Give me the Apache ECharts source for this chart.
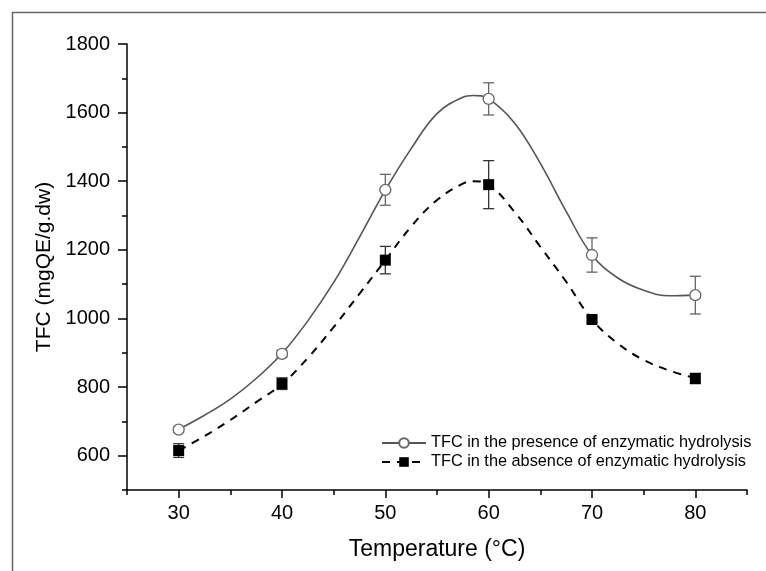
<!DOCTYPE html>
<html>
<head>
<meta charset="utf-8">
<script src="https://cdn.jsdelivr.net/npm/echarts@6/dist/echarts.min.js"></script>
<style>html,body{margin:0;padding:0;background:#fff}#c{width:766px;height:571px}</style>
</head>
<body>
<div id="c"></div>
<script>
// measured points
const temperatures = [30, 40, 50, 60, 70, 80];
const presence = [676, 897, 1375, 1640, 1185, 1068];
const presenceErr = [8, 10, 45, 47, 50, 55];
const absence = [615, 810, 1170, 1390, 997, 825];
const absenceErr = [20, 17, 40, 70, 8, 15];
// fitted curves
const fitTemperatures = [30, 32.5, 35, 37.5, 40, 42.5, 45, 47.5, 50, 52.5, 55, 57.5, 58.5, 60, 62.5, 65, 67.5, 70, 72.5, 75, 77.5, 80];
const presenceFit = [677, 718, 765, 825, 898, 993, 1105, 1237, 1374, 1495, 1597, 1645, 1650, 1640, 1570, 1452, 1312, 1185, 1118, 1082, 1066, 1068];
const absenceFit = [615, 657, 704, 756, 809, 885, 975, 1072, 1170, 1268, 1345, 1393, 1400, 1390, 1311, 1209, 1107, 997, 927, 879, 848, 826];
const xMajorTicks = [30, 40, 50, 60, 70, 80];
const xMinorTicks = [25, 35, 45, 55, 65, 75, 85];
const yMajorTicks = [600, 800, 1000, 1200, 1400, 1600, 1800];
const yMinorTicks = [500, 700, 900, 1100, 1300, 1500, 1700];
const seriesNames = ['TFC in the presence of enzymatic hydrolysis', 'TFC in the absence of enzymatic hydrolysis'];

const chart = echarts.init(document.getElementById('c'));
const font = 'Arial, "Liberation Sans", sans-serif';

function errSeries(vals, errs, color) {
  return {
    type: 'custom',
    data: temperatures.map((t, i) => [t, vals[i] - errs[i], vals[i] + errs[i]]),
    renderItem: function (params, api) {
      const lo = api.coord([api.value(0), api.value(1)]);
      const hi = api.coord([api.value(0), api.value(2)]);
      const w = 5.5;
      const st = { stroke: color, lineWidth: 1.3 };
      return {
        type: 'group',
        children: [
          { type: 'line', shape: { x1: lo[0], y1: lo[1], x2: hi[0], y2: hi[1] }, style: st },
          { type: 'line', shape: { x1: lo[0] - w, y1: lo[1], x2: lo[0] + w, y2: lo[1] }, style: st },
          { type: 'line', shape: { x1: hi[0] - w, y1: hi[1], x2: hi[0] + w, y2: hi[1] }, style: st }
        ]
      };
    },
    z: 1,
    silent: true
  };
}

const axisLineStyle = { color: '#000', width: 1.5 };
const presItem = { color: '#fff', borderColor: '#666', borderWidth: 1.3, opacity: 1 };
const absItem = { color: '#000', opacity: 1 };

chart.setOption({
  animation: false,
  backgroundColor: '#fff',
  graphic: [{
    type: 'rect', left: 10, top: 10, shape: { width: 800, height: 600 },
    style: { fill: 'none', stroke: '#666', lineWidth: 1.5 }, silent: true
  }],
  grid: { left: 127, top: 44, right: 19, bottom: 81 },
  legend: {
    left: 376, top: 430, orient: 'vertical', itemWidth: 44, itemHeight: 12, itemGap: 3,
    data: seriesNames,
    textStyle: { fontFamily: font, fontSize: 16.3, color: '#000' }
  },
  xAxis: [{
    type: 'value', min: 25, max: 85,
    name: 'Temperature (°C)', nameLocation: 'middle', nameGap: 48,
    nameTextStyle: { fontFamily: font, fontSize: 23, color: '#000' },
    axisLine: { lineStyle: axisLineStyle },
    axisTick: { customValues: xMajorTicks, length: 8, lineStyle: { color: '#000', width: 1.5 } },
    axisLabel: { customValues: xMajorTicks, margin: 13, fontFamily: font, fontSize: 20, color: '#000' },
    splitLine: { show: false }
  }, {
    type: 'value', min: 25, max: 85, position: 'bottom',
    axisLine: { show: false },
    axisTick: { customValues: xMinorTicks, length: 5, lineStyle: { color: '#000', width: 1.5 } },
    axisLabel: { show: false },
    splitLine: { show: false }
  }],
  yAxis: [{
    type: 'value', min: 500, max: 1800,
    name: 'TFC (mgQE/g.dw)', nameLocation: 'middle', nameGap: 61,
    nameTextStyle: { fontFamily: font, fontSize: 21, color: '#000' },
    axisLine: { lineStyle: axisLineStyle },
    axisTick: { customValues: yMajorTicks, length: 9, lineStyle: { color: '#000', width: 1.5 } },
    axisLabel: { customValues: yMajorTicks, margin: 17, fontFamily: font, fontSize: 20, color: '#000', formatter: v => String(v) },
    splitLine: { show: false }
  }, {
    type: 'value', min: 500, max: 1800, position: 'left',
    axisLine: { show: false },
    axisTick: { customValues: yMinorTicks, length: 5, lineStyle: { color: '#000', width: 1.5 } },
    axisLabel: { show: false },
    splitLine: { show: false }
  }],
  series: [
    errSeries(presence, presenceErr, '#666'),
    errSeries(absence, absenceErr, '#333'),
    {
      name: seriesNames[0], type: 'line', smooth: 0.4,
      data: fitTemperatures.map((t, i) => [t, presenceFit[i]]),
      symbol: 'circle', symbolSize: 11, showSymbol: false,
      lineStyle: { color: '#555', width: 1.6 },
      itemStyle: presItem,
      z: 2, silent: true
    },
    {
      name: seriesNames[1], type: 'line', smooth: 0.4,
      data: fitTemperatures.map((t, i) => [t, absenceFit[i]]),
      symbol: 'rect', symbolSize: 11, showSymbol: false,
      lineStyle: { color: '#000', width: 2, type: [8, 7] },
      itemStyle: absItem,
      z: 2, silent: true
    },
    {
      name: seriesNames[0], type: 'scatter',
      data: temperatures.map((t, i) => [t, presence[i]]),
      symbol: 'circle', symbolSize: 11,
      itemStyle: presItem, z: 3
    },
    {
      name: seriesNames[1], type: 'scatter',
      data: temperatures.map((t, i) => [t, absence[i]]),
      symbol: 'rect', symbolSize: 11,
      itemStyle: absItem, z: 3
    }
  ]
});
</script>
</body>
</html>
